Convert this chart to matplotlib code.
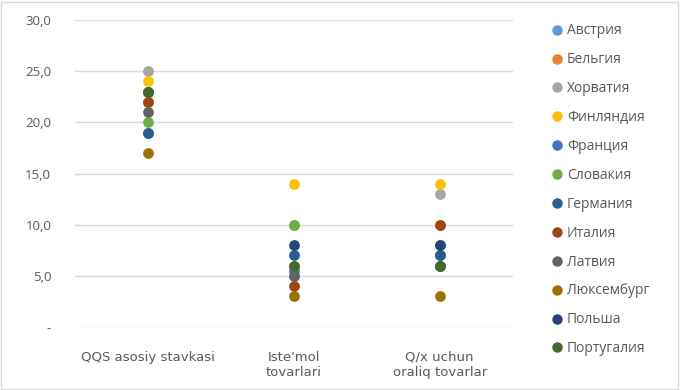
import matplotlib
matplotlib.use('Agg')
import matplotlib.pyplot as plt
from matplotlib.lines import Line2D
from matplotlib.patches import Rectangle

# categories and series
categories = ['QQS asosiy stavkasi', "Iste'mol\ntovarlari", 'Q/x uchun\noraliq tovarlar']
countries = ['Австрия', 'Бельгия', 'Хорватия', 'Финляндия', 'Франция', 'Словакия',
             'Германия', 'Италия', 'Латвия', 'Люксембург', 'Польша', 'Португалия']
colors = ['#5B9BD5', '#ED7D31', '#A5A5A5', '#FFC000', '#4472C4', '#70AD47',
          '#255E91', '#9E480E', '#636363', '#997300', '#264478', '#43682B']

austria = [23, 5, 6]
belgium = [22, 6, 10]
croatia = [25, 10, 13]
finland = [24, 14, 14]
france = [19, 5.5, 7]
slovakia = [20, 10, 8]
germany = [19, 7, 7]
italy = [22, 4, 10]
latvia = [21, 5, 6]
luxembourg = [17, 3, 3]
poland = [23, 8, 8]
portugal = [23, 6, 6]
series = [austria, belgium, croatia, finland, france, slovakia,
          germany, italy, latvia, luxembourg, poland, portugal]

yticks = [0, 5, 10, 15, 20, 25, 30]
ylabels = ['-', '5,0', '10,0', '15,0', '20,0', '25,0', '30,0']

text_color = '#595959'

fig = plt.figure(figsize=(6.8, 3.9), dpi=100)
ax = fig.add_axes([0.110, 0.1615, 0.644, 0.7872])

x = range(len(categories))
for name, vals, c in zip(countries, series, colors):
    ax.scatter(x, vals, s=60, color=c, zorder=3, linewidths=0, label=name)

ax.set_xlim(-0.5, 2.5)
ax.set_ylim(0, 30)
ax.set_yticks(yticks)
ax.set_yticklabels(ylabels, fontsize=9.5, color=text_color, family='Open Sans')
ax.set_xticks(list(x))
ax.set_xticklabels(categories, fontsize=9.5, color=text_color, family='DejaVu Sans',
                   linespacing=1.25)
ax.tick_params(axis='y', length=0, pad=17)
ax.tick_params(axis='x', length=0, pad=17)
ax.grid(axis='y', color='#D9D9D9', linewidth=1)
ax.set_axisbelow(True)
for s in ax.spines.values():
    s.set_visible(False)

handles = [Line2D([], [], marker='o', linestyle='', markersize=7.5,
                  markerfacecolor=c, markeredgewidth=0) for c in colors]
leg = fig.legend(handles, countries, loc='upper left', bbox_to_anchor=(0.805, 0.954),
                 frameon=False, fontsize=10, labelspacing=1.0, handlelength=0.6,
                 handletextpad=0.4, borderaxespad=0)
for t in leg.get_texts():
    t.set_color(text_color)
    t.set_family('Open Sans')

fig.patches.append(Rectangle((0.002, 0.003), 0.995, 0.993, transform=fig.transFigure,
                             fill=False, edgecolor='#D9D9D9', linewidth=1))

fig.savefig('out.png', dpi=100)
